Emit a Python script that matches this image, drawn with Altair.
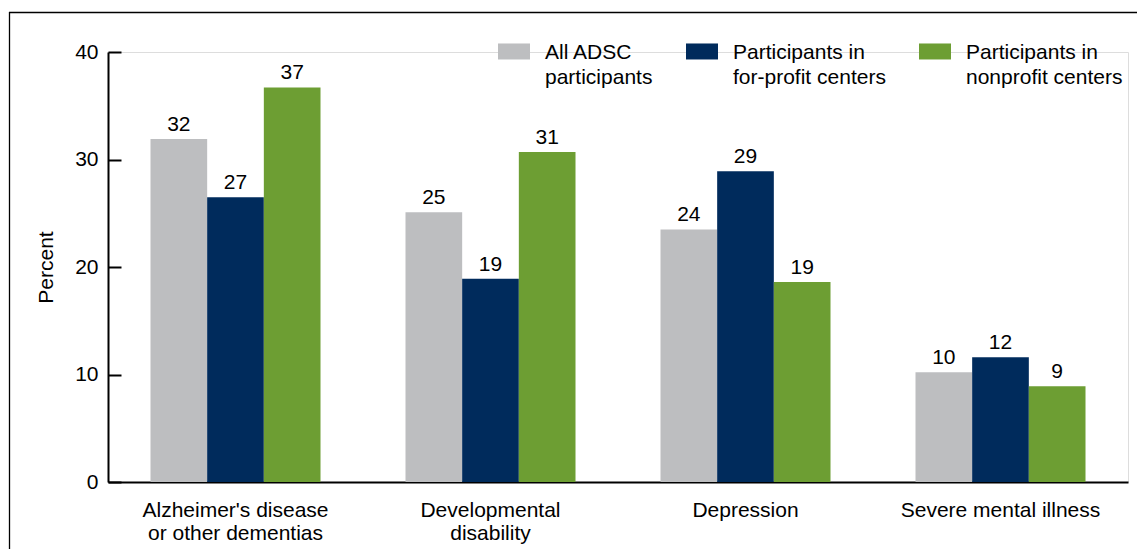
import altair as alt
import pandas as pd

categories = ["Alzheimer's disease or other dementias", "Developmental disability", "Depression", "Severe mental illness"]
category_lines = [["Alzheimer's disease", "or other dementias"], ["Developmental", "disability"], ["Depression"], ["Severe mental illness"]]
series = ["All ADSC participants", "Participants in for-profit centers", "Participants in nonprofit centers"]
series_lines = [["All ADSC", "participants"], ["Participants in", "for-profit centers"], ["Participants in", "nonprofit centers"]]
colors = ["#BDBEC0", "#002B5C", "#6D9E33"]

all_adsc = [31.9, 25.1, 23.5, 10.2]
for_profit = [26.5, 18.9, 28.9, 11.6]
nonprofit = [36.7, 30.7, 18.6, 8.9]
all_labels = ["32", "25", "24", "10"]
fp_labels = ["27", "19", "29", "12"]
np_labels = ["37", "31", "19", "9"]

rows = []
for vals, labs, s in [(all_adsc, all_labels, series[0]), (for_profit, fp_labels, series[1]), (nonprofit, np_labels, series[2])]:
    for c, v, l in zip(categories, vals, labs):
        rows.append({"category": c, "series": s, "value": v, "label": l})
df = pd.DataFrame(rows)

def label_expr(names, lines):
    expr = "datum.label"
    for n, ls in reversed(list(zip(names, lines))):
        n_esc = n.replace("'", "\\'")
        arr = "[" + ",".join("'" + x.replace("'", "\\'") + "'" for x in ls) + "]"
        expr = f"datum.label == '{n_esc}' ? {arr} : ({expr})"
    return expr

FONT = "Liberation Sans"

x_enc = alt.X("category:N", sort=categories, title=None,
              scale=alt.Scale(paddingInner=1/3, paddingOuter=1/6),
              axis=alt.Axis(labelAngle=0, ticks=False, labelPadding=17, labelLineHeight=23,
                            labelExpr=label_expr(categories, category_lines),
                            domainColor="black", domainWidth=2, labelColor="black",
                            labelFont=FONT, labelFontSize=21, labelLimit=400))
y_enc = alt.Y("value:Q", title="Percent",
              scale=alt.Scale(domain=[0, 40], nice=False),
              axis=alt.Axis(values=[0, 10, 20, 30, 40], ticks=False, labelPadding=10,
                            grid=True, gridDash=[13, 3000], gridColor="black", gridWidth=2,
                            domainColor="black", domainWidth=2, labelColor="black",
                            labelFont=FONT, labelFontSize=21, titleFont=FONT, titleFontSize=21,
                            titleFontWeight="normal", titleColor="black", titlePadding=18))

bars = alt.Chart(df).mark_bar().encode(
    x=x_enc,
    xOffset=alt.XOffset("series:N", sort=series, scale=alt.Scale(paddingInner=0, paddingOuter=0)),
    y=y_enc,
    color=alt.Color("series:N", sort=series,
                    scale=alt.Scale(domain=series, range=colors),
                    legend=alt.Legend(title=None, orient="none", legendX=390, legendY=-9,
                                      direction="horizontal", padding=0,
                                      symbolType="M-1,-0.97H1V0.03H-1Z", symbolSize=1024,
                                      symbolStrokeWidth=0, symbolOpacity=1,
                                      labelFont=FONT, labelFontSize=21, labelColor="black",
                                      labelBaseline="alphabetic", labelOffset=15, labelLimit=400,
                                      columnPadding=33,
                                      labelExpr=label_expr(series, series_lines))),
)

texts = alt.Chart(df).mark_text(baseline="alphabetic", dy=-8, font=FONT, fontSize=21, color="black").encode(
    x=alt.X("category:N", sort=categories),
    xOffset=alt.XOffset("series:N", sort=series),
    y=alt.Y("value:Q"),
    text="label:N",
)

frame_data = pd.DataFrame({"f": [0]})
frame_top = alt.Chart(frame_data).mark_rule(color="black", strokeWidth=1.3).encode(
    x=alt.value(-99), x2=alt.value(1200), y=alt.value(-39.5)
)
frame_left = alt.Chart(frame_data).mark_rule(color="black", strokeWidth=1.3).encode(
    x=alt.value(-98.5), y=alt.value(-40), y2=alt.value(700)
)

chart = alt.layer(frame_top, frame_left, bars, texts).properties(
    width=1020, height=430,
    autosize=alt.AutoSizeParams(type="none"),
    padding={"left": 100, "top": 44, "right": 9, "bottom": 67},
).configure_view(stroke=None).configure(background="white", style={"guide-label": {"lineHeight": 25}})

chart.save("out.html", embed_options={"renderer": "svg", "actions": False})
